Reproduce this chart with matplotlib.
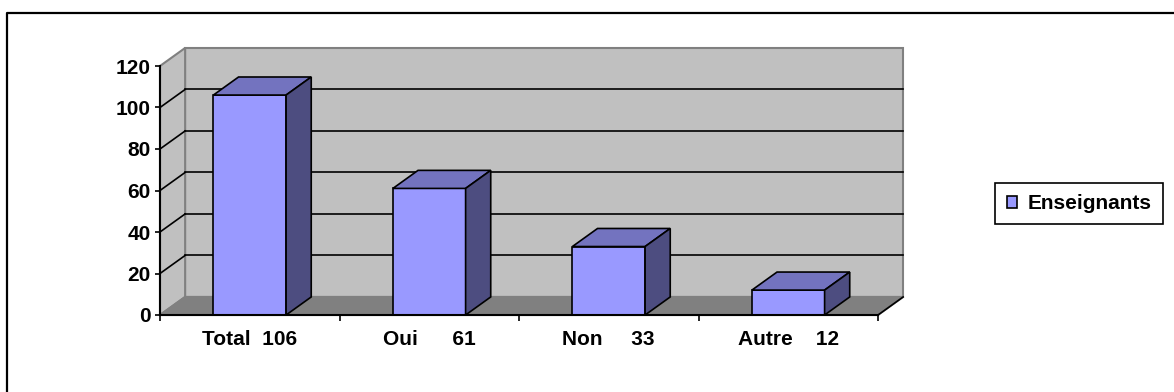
import matplotlib
matplotlib.use("Agg")
import matplotlib.pyplot as plt
from matplotlib.patches import Polygon, Rectangle, Patch
from matplotlib.lines import Line2D

plt.rcParams['font.family'] = ['Liberation Sans', 'DejaVu Sans']
plt.rcParams['font.weight'] = 'bold'

categories = ['Total', 'Oui', 'Non', 'Autre']
enseignants = [106, 61, 33, 12]
label_gaps = [2, 6, 5, 4]
y_ticks = [0, 20, 40, 60, 80, 100, 120]

W, H = 1174, 392
fig = plt.figure(figsize=(W / 100, H / 100), dpi=100)
ax = fig.add_axes([160 / W, 77 / H, 718 / W, 249 / H])
ax.set_xlim(0, len(categories))
ax.set_ylim(0, 120)
ax.patch.set_visible(False)

# oblique depth of the 3D box, in data units
dx = 0.14
dy = 8.7
n = len(categories)
wall = '#C0C0C0'
edge = '#808080'
fs = 15

# back wall, side wall, floor
ax.add_patch(Polygon([(dx, dy), (n + dx, dy), (n + dx, 120 + dy), (dx, 120 + dy)],
                     closed=True, fc=wall, ec=edge, lw=1.5, clip_on=False, zorder=0))
ax.add_patch(Polygon([(0, 0), (dx, dy), (dx, 120 + dy), (0, 120)],
                     closed=True, fc=wall, ec=edge, lw=1.5, clip_on=False, zorder=0))
ax.add_patch(Polygon([(0, 0), (n, 0), (n + dx, dy), (dx, dy)],
                     closed=True, fc='#808080', ec=edge, lw=1.5, clip_on=False, zorder=1))
ax.plot([n, n + dx], [0, dy], color='black', lw=1.2, clip_on=False, zorder=2)

# gridlines on the walls
for v in y_ticks[1:-1]:
    ax.plot([dx, n + dx], [v + dy, v + dy], color='black', lw=1.2, clip_on=False, zorder=1)
    ax.plot([0, dx], [v, v + dy], color='black', lw=1.2, clip_on=False, zorder=1)

# bars
bw = 0.405
front, top, side = '#9999FF', '#7373BF', '#4D4D80'
for i, h in enumerate(enseignants):
    x0 = i + 0.5 - bw / 2
    ax.add_patch(Rectangle((x0, 0), bw, h, fc=front, ec='black', lw=1.2,
                           clip_on=False, zorder=3))
    ax.add_patch(Polygon([(x0, h), (x0 + bw, h), (x0 + bw + dx, h + dy), (x0 + dx, h + dy)],
                         closed=True, fc=top, ec='black', lw=1.2, clip_on=False, zorder=3))
    ax.add_patch(Polygon([(x0 + bw, 0), (x0 + bw + dx, dy), (x0 + bw + dx, h + dy), (x0 + bw, h)],
                         closed=True, fc=side, ec='black', lw=1.2, clip_on=False, zorder=3))

for s in ['top', 'right']:
    ax.spines[s].set_visible(False)
for s in ['left', 'bottom']:
    ax.spines[s].set_linewidth(1.5)
    ax.spines[s].set_zorder(4)

ax.set_yticks(y_ticks)
ax.set_yticklabels([str(t) for t in y_ticks], fontsize=fs, fontweight='bold')
ax.tick_params(axis='y', direction='out', length=3.5, width=1.2, pad=3)

labels = [c + ' ' * g + str(v) for c, g, v in zip(categories, label_gaps, enseignants)]
ax.set_xticks([i + 0.5 for i in range(n)])
ax.set_xticklabels(labels, fontsize=fs, fontweight='bold')
ax.set_xticks(range(n + 1), minor=True)
ax.tick_params(axis='x', which='major', length=0, pad=11)
ax.tick_params(axis='x', which='minor', direction='out', length=4.5, width=1.2)

leg = fig.legend(handles=[Patch(fc=front, ec='black', lw=1.2)], labels=['Enseignants'],
                 loc='center', bbox_to_anchor=(1079 / W, 1 - 203.5 / H),
                 fancybox=False, edgecolor='black', framealpha=1,
                 prop={'size': fs, 'weight': 'bold'},
                 handlelength=0.5, handleheight=0.5, handletextpad=0.5,
                 borderpad=0.55, borderaxespad=0)
leg.get_frame().set_linewidth(1.2)

# outer chart frame
fig.add_artist(Line2D([7 / W, 7 / W, 1], [0, 1 - 13 / H, 1 - 13 / H],
                      transform=fig.transFigure, color='black', lw=1.6))

fig.savefig('out.png', dpi=100)
